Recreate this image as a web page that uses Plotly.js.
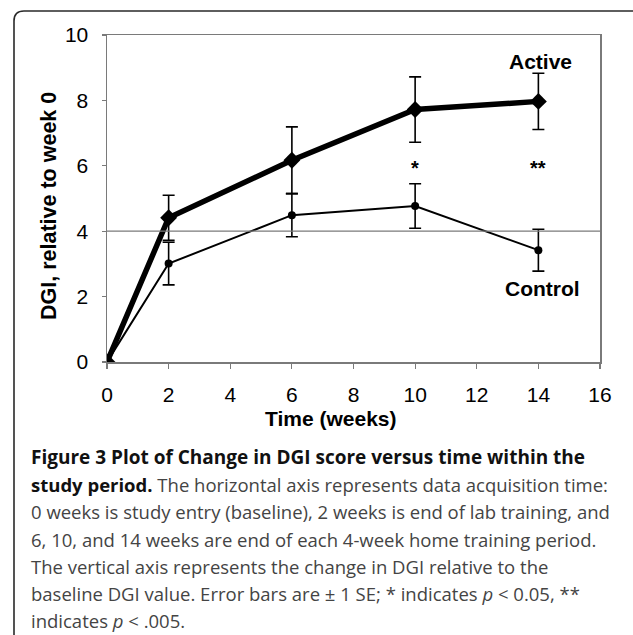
<!DOCTYPE html>
<html>
<head>
<meta charset="utf-8">
<script src="https://cdn.plot.ly/plotly-3.0.1.min.js"></script>
<style>
html,body{margin:0;padding:0;background:#fff;}
#chart{width:633px;height:635px;}
</style>
</head>
<body>
<div id="chart"></div>
<script>
// ---- data ----
const weeks = [0, 2, 6, 10, 14];
const activeDGI = [0, 4.41, 6.17, 7.72, 7.97];
const activeSE = [0, 0.69, 1.02, 1.0, 0.86];
const controlDGI = [0, 3.01, 4.49, 4.77, 3.42];
const controlSE = [0, 0.65, 0.66, 0.68, 0.64];
const xTicks = [0, 2, 4, 6, 8, 10, 12, 14, 16];
const yTicks = [0, 2, 4, 6, 8, 10];
const refLevel = 4;
const sigWeeks = [10, 14];
const sigMarks = ['*', '**'];

const captionLines = [
  '<span style="color:#111"><b>Figure 3 Plot of Change in DGI score versus time within the</b></span>',
  '<span style="color:#111"><b>study period.</b></span> The horizontal axis represents data acquisition time:',
  '0 weeks is study entry (baseline), 2 weeks is end of lab training, and',
  '6, 10, and 14 weeks are end of each 4-week home training period.',
  'The vertical axis represents the change in DGI relative to the',
  'baseline DGI value. Error bars are ± 1 SE; * indicates <i>p</i> &lt; 0.05, **',
  'indicates <i>p</i> &lt; .005.'
];

// ---- layout geometry (pixels) ----
const W = 633, H = 635;
const M = {l: 107, r: 33, t: 35, b: 273};
const pw = W - M.l - M.r, ph = H - M.t - M.b;
const px = x => (x - M.l) / pw;            // pixel x -> paper
const py = y => (M.t + ph - y) / ph;       // pixel y -> paper

const traces = [
  {
    x: weeks, y: controlDGI, type: 'scatter', mode: 'lines+markers',
    line: {color: '#000', width: 2},
    marker: {symbol: 'circle', size: 8, color: '#000'},
    error_y: {type: 'data', array: controlSE, visible: true, color: '#000', thickness: 1.6, width: 6},
    showlegend: false, hoverinfo: 'x+y'
  },
  {
    x: weeks, y: activeDGI, type: 'scatter', mode: 'lines+markers',
    line: {color: '#000', width: 5.5},
    marker: {symbol: 'diamond', size: 13, color: '#000'},
    error_y: {type: 'data', array: activeSE, visible: true, color: '#000', thickness: 1.6, width: 6},
    showlegend: false, hoverinfo: 'x+y'
  }
];

const labelFont = {family: 'Liberation Sans, Arial, sans-serif', size: 21, color: '#000'};
const annotations = [];
annotations.push({xref: 'x', yref: 'y', x: 14.07, y: 9.2, text: '<b>Active</b>', showarrow: false, font: labelFont});
annotations.push({xref: 'x', yref: 'y', x: 14.12, y: 2.26, text: '<b>Control</b>', showarrow: false, font: labelFont});
sigWeeks.forEach((w, i) => annotations.push({
  xref: 'x', yref: 'y', x: w, y: 5.92, text: '<b>' + sigMarks[i] + '</b>', showarrow: false,
  font: {family: 'Liberation Sans, Arial, sans-serif', size: 20, color: '#000'}
}));
// axis titles
annotations.push({xref: 'paper', yref: 'paper', x: px(331), y: py(418), text: '<b>Time (weeks)</b>',
  showarrow: false, xanchor: 'center', yanchor: 'middle', font: labelFont});
annotations.push({xref: 'paper', yref: 'paper', x: px(49), y: py(206), text: '<b>DGI, relative to week 0</b>',
  showarrow: false, textangle: -90, xanchor: 'center', yanchor: 'middle',
  font: {family: 'Liberation Sans, Arial, sans-serif', size: 21.5, color: '#000'}});
// caption
const baselines = [463, 490, 517, 545, 572, 599, 626];
captionLines.forEach((t, i) => annotations.push({
  xref: 'paper', yref: 'paper', x: px(29), y: py(baselines[i] - 6), text: t,
  showarrow: false, xanchor: 'left', yanchor: 'middle', align: 'left',
  font: {family: 'Open Sans, sans-serif', size: i === 0 ? 19 : 18.5, color: '#444'}
}));

const shapes = [
  {type: 'line', xref: 'x', yref: 'y', x0: 0, x1: 16.05, y0: refLevel, y1: refLevel,
   line: {color: '#7a7a7a', width: 1.2}},
  {type: 'path', xref: 'paper', yref: 'paper',
   path: `M ${px(14)},${py(645)} L ${px(14)},${py(21)} Q ${px(14)},${py(11)} ${px(24)},${py(11)} L ${px(650)},${py(11)}`,
   line: {color: '#2a2a2a', width: 1.6}}
];

const axisFont = {family: 'Liberation Sans, Arial, sans-serif', size: 21, color: '#000'};

const layout = {
  width: W, height: H,
  margin: M,
  paper_bgcolor: '#fff', plot_bgcolor: '#fff',
  xaxis: {
    range: [0, 16], tickvals: xTicks, ticktext: xTicks.map(String),
    showgrid: false, zeroline: false,
    showline: true, linecolor: '#7a7a7a', linewidth: 1.5, mirror: true,
    ticks: 'outside', ticklen: 5, tickwidth: 1.2, tickcolor: '#7a7a7a',
    tickfont: axisFont, ticklabelstandoff: 8
  },
  yaxis: {
    range: [0, 10], tickvals: yTicks, ticktext: yTicks.map(String),
    showgrid: false, zeroline: false,
    showline: true, linecolor: '#7a7a7a', linewidth: 1.5, mirror: true,
    ticks: 'outside', ticklen: 4, tickwidth: 1.2, tickcolor: '#7a7a7a',
    tickfont: axisFont, ticklabelstandoff: 9
  },
  annotations: annotations,
  shapes: shapes,
  showlegend: false
};

Plotly.newPlot('chart', traces, layout, {staticPlot: true, displayModeBar: false});
</script>
</body>
</html>
